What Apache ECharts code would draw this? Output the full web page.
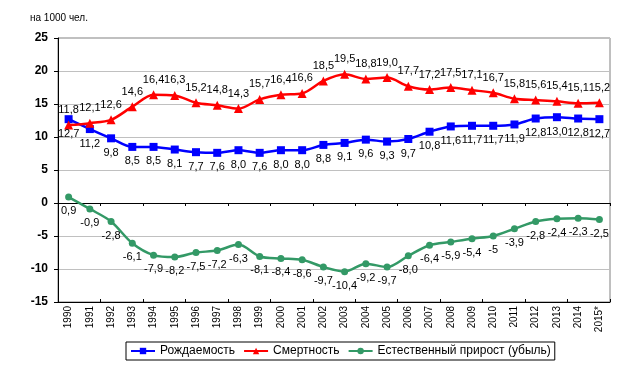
<!DOCTYPE html>
<html><head><meta charset="utf-8">
<script src="https://cdn.jsdelivr.net/npm/echarts@6/dist/echarts.min.js"></script>
<style>html,body{margin:0;padding:0;background:#fff}#c{width:624px;height:371px}</style>
</head><body><div id="c"></div>
<script>
var years = ['1990','1991','1992','1993','1994','1995','1996','1997','1998','1999','2000','2001','2002','2003','2004','2005','2006','2007','2008','2009','2010','2011','2012','2013','2014','2015*'];
var births = [12.7,11.2,9.8,8.5,8.5,8.1,7.7,7.6,8.0,7.6,8.0,8.0,8.8,9.1,9.6,9.3,9.7,10.8,11.6,11.7,11.7,11.9,12.8,13.0,12.8,12.7];
var deaths = [11.8,12.1,12.6,14.6,16.4,16.3,15.2,14.8,14.3,15.7,16.4,16.6,18.5,19.5,18.8,19.0,17.7,17.2,17.5,17.1,16.7,15.8,15.6,15.4,15.1,15.2];
var natural = [0.9,-0.9,-2.8,-6.1,-7.9,-8.2,-7.5,-7.2,-6.3,-8.1,-8.4,-8.6,-9.7,-10.4,-9.2,-9.7,-8.0,-6.4,-5.9,-5.4,-5,-3.9,-2.8,-2.4,-2.3,-2.5];
var naturalLabels = ['0,9','-0,9','-2,8','-6,1','-7,9','-8,2','-7,5','-7,2','-6,3','-8,1','-8,4','-8,6','-9,7','-10,4','-9,2','-9,7','-8,0','-6,4','-5,9','-5,4','-5','-3,9','-2,8','-2,4','-2,3','-2,5'];

var fam = 'Arial, "Liberation Sans", sans-serif';
function fmt(p){ return p.value.toFixed(1).replace('.', ','); }
var lbl = {show:true, color:'#000', fontFamily:fam, fontSize:11, distance:5};

var chart = echarts.init(document.getElementById('c'), null, {renderer:'canvas'});
chart.setOption({
  animation:false,
  textStyle:{fontFamily:fam},
  grid:{left:58, right:14, top:38, bottom:69, show:true, borderColor:'#808080', borderWidth:1},
  graphic:[{type:'text', left:30, top:13, style:{text:'на 1000 чел.', fontSize:10, fill:'#000', fontFamily:fam}}],
  legend:{
    top:342, left:126,
    itemWidth:24, itemHeight:8, itemGap:8,
    borderColor:'#000', borderWidth:1, padding:[3,4,3,4],
    textStyle:{fontSize:12, color:'#000', fontFamily:fam},
    data:['Рождаемость','Смертность','Естественный прирост (убыль)']
  },
  xAxis:[
    {type:'category', data:years, boundaryGap:true, position:'bottom',
     axisLine:{onZero:true, lineStyle:{color:'#000', width:1}},
     axisTick:{show:true, length:3, lineStyle:{color:'#000'}},
     axisLabel:{show:false}, splitLine:{show:false}},
    {type:'category', data:years, boundaryGap:true, position:'bottom',
     axisLine:{onZero:false, show:true, lineStyle:{color:'#000'}},
     axisTick:{show:false},
     axisLabel:{show:true, rotate:90, fontSize:10, color:'#000', margin:4, interval:0, fontFamily:fam},
     splitLine:{show:false}},
    {type:'category', data:years, boundaryGap:true, position:'bottom',
     axisLine:{onZero:true, show:false},
     axisTick:{show:true, inside:true, length:3, lineStyle:{color:'#000'}},
     axisLabel:{show:false}, splitLine:{show:false}}
  ],
  yAxis:{type:'value', min:-15, max:25, interval:5,
    axisLine:{show:true, lineStyle:{color:'#000'}},
    axisTick:{show:true, length:4, lineStyle:{color:'#000'}},
    axisLabel:{fontSize:12, fontWeight:'bold', color:'#000', margin:10, fontFamily:fam},
    splitLine:{show:true, lineStyle:{color:'#c0c0c0', width:1}}
  },
  series:[
    {name:'Рождаемость', type:'line', data:births, smooth:0.3, symbol:'rect', symbolSize:8,
     itemStyle:{color:'#0000ff'}, lineStyle:{color:'#0000ff', width:2.5},
     label:Object.assign({position:'bottom', formatter:fmt}, lbl)},
    {name:'Смертность', type:'line', data:deaths, smooth:0.3, symbol:'triangle', symbolSize:9,
     itemStyle:{color:'#ff0000'}, lineStyle:{color:'#ff0000', width:2.5},
     label:Object.assign({position:'top', formatter:fmt}, lbl)},
    {name:'Естественный прирост (убыль)', type:'line', data:natural, smooth:0.3, symbol:'circle', symbolSize:7,
     itemStyle:{color:'#339966'}, lineStyle:{color:'#339966', width:2.5},
     label:Object.assign({position:'bottom', formatter:function(p){return naturalLabels[p.dataIndex];}}, lbl)}
  ]
});
</script></body></html>
